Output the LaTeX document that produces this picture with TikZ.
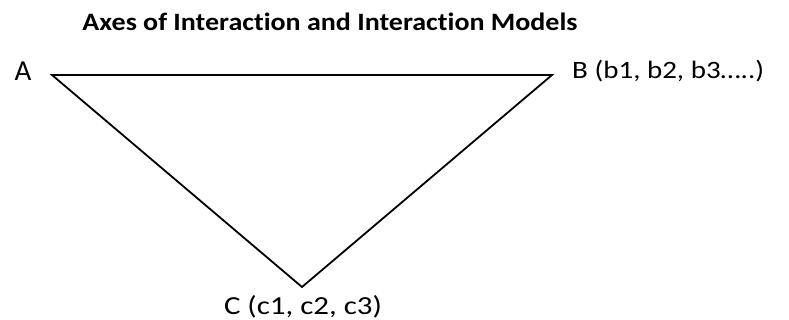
\documentclass[tikz,border=0pt]{standalone}
\usepackage{graphicx}
\usepackage{fontspec}
\setmainfont{Carlito}[Ligatures={NoCommon}]
\begin{document}
\begin{tikzpicture}[x=1pt,y=-1pt,
  lbl/.style={inner sep=0pt,font=\fontsize{25}{30}\selectfont},
  edge/.style={line width=1.8pt,line join=miter}]
\useasboundingbox (0,0) rectangle (789,320);
\node[inner sep=0pt,anchor=base,font=\fontsize{25}{30}\selectfont\bfseries] (title) at (330,31) {\scalebox{1.12}[1]{Axes of Interaction and Interaction Models}};
\coordinate (a) at (52,75);
\coordinate (b) at (552,75);
\coordinate (c) at (302,287);
\draw[edge] (a) -- (b) -- (c) -- cycle;
\node[lbl,anchor=base,font=\fontsize{29}{34}\selectfont] (la) at (23,81) {A};
\node[lbl,anchor=base west] (lb) at (572,79) {\scalebox{1.16}[1]{B (b1, b2, b3…..)}};
\node[lbl,anchor=base,font=\fontsize{26}{30}\selectfont] (lc) at (303,314) {\scalebox{1.19}[1]{C (c1, c2, c3)}};
\end{tikzpicture}
\end{document}
